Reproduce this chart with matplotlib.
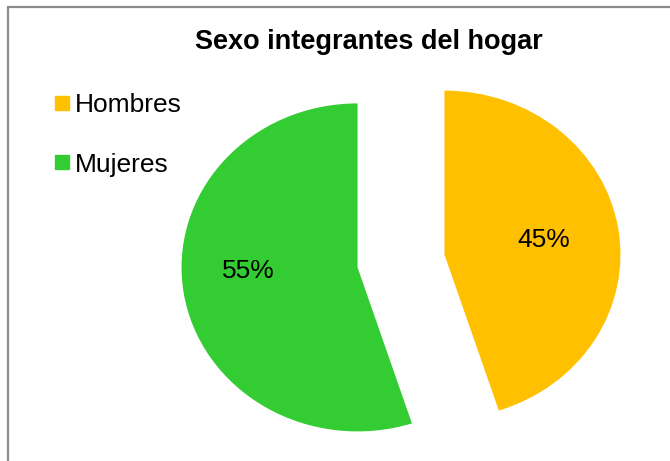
import matplotlib.pyplot as plt
from matplotlib.lines import Line2D
from matplotlib.patches import Rectangle

plt.rcParams['font.family'] = ['Liberation Sans', 'DejaVu Sans']

categorias = ["Hombres", "Mujeres"]
porcentajes = [45, 55]
colores = ["#FFC000", "#33CC33"]
titulo = "Sexo integrantes del hogar"

W, H = 670, 461
fig = plt.figure(figsize=(W / 100, H / 100), dpi=100)
fig.patch.set_facecolor("white")

# marco gris (solo se ven arriba e izquierda)
fig.patches.append(Rectangle((8 / W, -0.1), 1.2, 1.1 - 7.5 / H,
                             transform=fig.transFigure, fill=False,
                             edgecolor="#8c8c8c", linewidth=1.6))

# ejes: 1 unidad = 176 px en x, 164 px en y; centro en (401, 261)
rx, ry = 176, 164
cx, cy = 401, H - 261
lim = 1.2
ax = fig.add_axes([(cx - lim * rx) / W, (cy - lim * ry) / H,
                   2 * lim * rx / W, 2 * lim * ry / H])

wedges, texts, autotexts = ax.pie(
    porcentajes, colors=colores, startangle=90, counterclock=False,
    explode=[0.25, 0.25], autopct="%1.0f%%", pctdistance=0.57,
    textprops={"fontsize": 19, "color": "black"},
    wedgeprops={"linewidth": 0})
ax.set_aspect("auto")
ax.set_xlim(-lim, lim)
ax.set_ylim(-lim, lim)
ax.axis("off")

# Excel coloca la etiqueta de Mujeres algo mas afuera y mas arriba
x, y = autotexts[1].get_position()
autotexts[1].set_position((x - 0.06, y + 0.07))

fig.text(368.5 / W, 1 - 42 / H, titulo, ha="center", va="center",
         fontsize=19.5, fontweight="bold")

handles = [Line2D([], [], marker="s", linestyle="none", markersize=10,
                  markerfacecolor=c, markeredgecolor=c) for c in colores]
fig.legend(handles, categorias, loc="upper left",
           bbox_to_anchor=(54 / W, 1 - 93 / H), frameon=False,
           fontsize=19, handlelength=0.6, handletextpad=0.2,
           labelspacing=1.35, borderpad=0, borderaxespad=0)

fig.savefig("out.png", dpi=100, facecolor="white")
